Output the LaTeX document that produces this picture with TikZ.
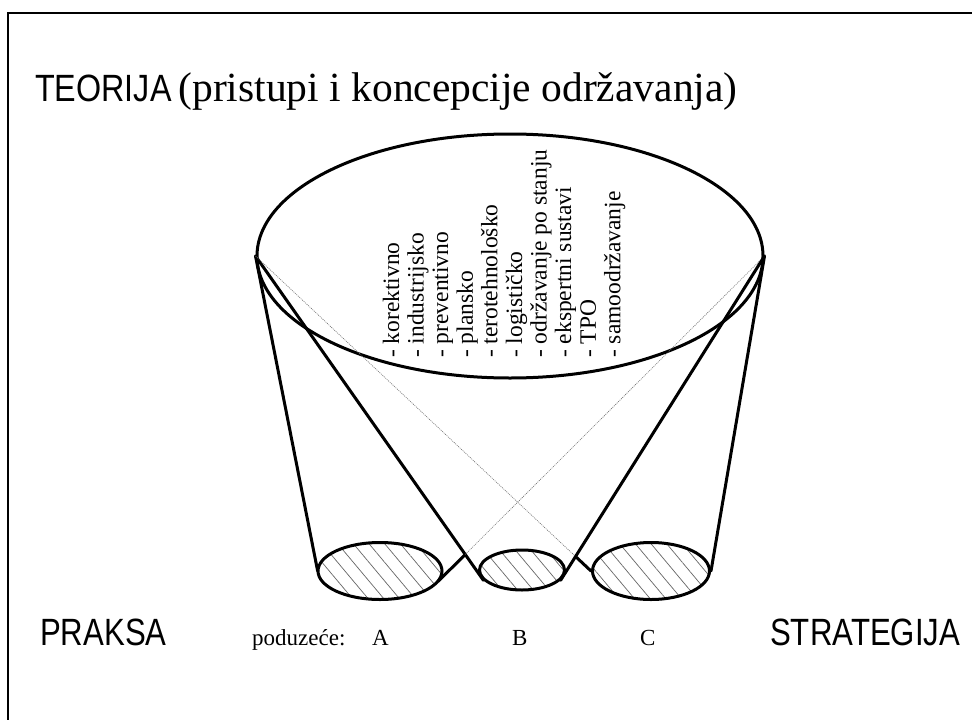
\documentclass[tikz,border=0pt]{standalone}
\usepackage{fontspec}
\setmainfont{Liberation Serif}
\newfontfamily\condsans[FakeStretch=0.82]{Liberation Sans}
\newfontfamily\titlesans[FakeStretch=0.85]{Liberation Sans}
\usetikzlibrary{shapes.geometric,patterns.meta}
\tikzset{
  thickln/.style={line width=3pt, line cap=round},
  hidden/.style={line width=0.6pt, black!55, dash pattern=on 1pt off 1pt},
  cone/.style={ellipse, draw, line width=3pt, inner sep=0pt},
  hatched/.style={cone, pattern={Lines[angle=-50,distance=12pt,line width=0.7pt]}, pattern color=black!60},
  item/.style={rotate=90, anchor=base west, inner sep=0pt, font=\fontsize{23.5}{23.5}\selectfont},
  serif/.style={inner sep=0pt, anchor=base west, font=\fontsize{23}{23}\selectfont},
  bigsans/.style={inner sep=0pt, anchor=base west, font=\condsans\fontsize{38}{38}\selectfont}
}
\begin{document}
\begin{tikzpicture}[x=1pt,y=-1pt]
\useasboundingbox (0,0) rectangle (972,720);
\fill[white] (0,0) rectangle (972,720);
% frame
\draw[line width=2pt] (8,740) -- (8,13) -- (990,13);
% title
\node[anchor=base west, inner sep=0pt] (title) at (35,101)
  {{\titlesans\fontsize{38}{38}\selectfont TEORIJA}\hspace{7pt}{\fontsize{41.5}{41.5}\selectfont(pristupi i koncepcije održavanja)}};
% big ellipse
\node[cone, minimum width=506pt, minimum height=244pt] (big) at (510,256) {};
% small ellipses
\node[hatched, minimum width=124pt, minimum height=57pt] (A) at (380,571) {};
\node[hatched, minimum width=85pt, minimum height=40pt] (B) at (522,570) {};
\node[hatched, minimum width=117pt, minimum height=57pt] (C) at (651,571) {};
% crossing points
\coordinate (x1) at (intersection of A.-10--big.east and big.west--B.-165);
\coordinate (x2) at (intersection of C.west--big.west and B.-15--big.east);
% connectors
\draw[thickln] (big.west) -- (A.west);
\draw[thickln] (big.west) -- (B.-165);
\draw[thickln] (A.-10) -- (x1);
\draw[hidden] (x1) -- (big.east);
\draw[thickln] (C.west) -- (x2);
\draw[hidden] (x2) -- (big.west);
\draw[thickln] (B.-15) -- (big.east);
\draw[thickln] (C.east) -- (big.east);
% list
\foreach \t [count=\i] in {korektivno, industrijsko, preventivno, plansko, terotehnološko, logističko, održavanje po stanju, ekspertni sustavi, TPO, samoodržavanje}
  \node[item] (l\i) at ({399+24.6*(\i-1)},358) {- \t};
% bottom labels
\node[bigsans] (praksa) at (40,645) {PRAKSA};
\node[bigsans] (strat) at (770,645) {STRATEGIJA};
\node[serif] (pod) at (252,645) {poduzeće:};
\node[serif] (la) at (372,645) {A};
\node[serif] (lb) at (512,645) {B};
\node[serif] (lc) at (640,645) {C};
\end{tikzpicture}
\end{document}
